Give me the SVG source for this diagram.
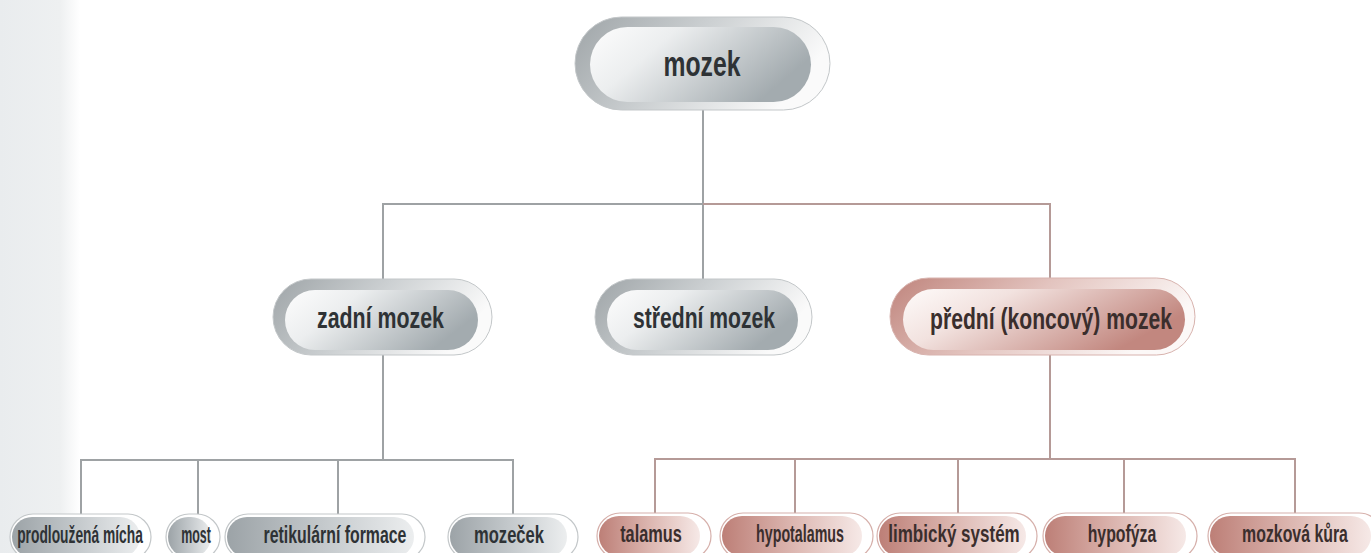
<svg xmlns="http://www.w3.org/2000/svg" width="1371" height="553" viewBox="0 0 1371 553">
<defs>
<linearGradient id="bgStrip" x1="0" y1="0" x2="1" y2="0">
<stop offset="0" stop-color="#e9ecee"/>
<stop offset="0.75" stop-color="#eef0f1"/>
<stop offset="1" stop-color="#ffffff"/>
</linearGradient>
<linearGradient id="outerGray" x1="0" y1="0" x2="1" y2="0.3">
<stop offset="0" stop-color="#9ea4a7"/>
<stop offset="0.5" stop-color="#ccd0d2"/>
<stop offset="1" stop-color="#fafafa"/>
</linearGradient>
<linearGradient id="innerGray" x1="0" y1="0" x2="1" y2="0.4">
<stop offset="0" stop-color="#fdfdfd"/>
<stop offset="0.35" stop-color="#eceeef"/>
<stop offset="1" stop-color="#a3abaf"/>
</linearGradient>
<linearGradient id="outerRed" x1="0" y1="0" x2="1" y2="0.3">
<stop offset="0" stop-color="#bf847c"/>
<stop offset="0.5" stop-color="#e3c4bf"/>
<stop offset="1" stop-color="#fcf8f7"/>
</linearGradient>
<linearGradient id="innerRed" x1="0" y1="0" x2="1" y2="0.4">
<stop offset="0" stop-color="#fefbfa"/>
<stop offset="0.35" stop-color="#f2e2df"/>
<stop offset="1" stop-color="#c2877f"/>
</linearGradient>
<linearGradient id="leafGray" x1="0" y1="0" x2="1" y2="0">
<stop offset="0" stop-color="#9ca3a7"/>
<stop offset="0.5" stop-color="#c3c8cb"/>
<stop offset="1" stop-color="#eceeef"/>
</linearGradient>
<linearGradient id="leafRed" x1="0" y1="0" x2="1" y2="0">
<stop offset="0" stop-color="#bd7f77"/>
<stop offset="0.5" stop-color="#dcb6b0"/>
<stop offset="1" stop-color="#f6e9e7"/>
</linearGradient>
</defs>
<style>
.oG{fill:url(#outerGray);stroke:#c3c7c9;stroke-width:1}
.iG{fill:url(#innerGray)}
.oR{fill:url(#outerRed);stroke:#d8b3ae;stroke-width:1}
.iR{fill:url(#innerRed)}
.lo{fill:#ffffff;stroke:#c3c7c9;stroke-width:1.2}
.loR{fill:#ffffff;stroke:#d6b0ab;stroke-width:1.2}
.lG{fill:url(#leafGray)}
.lR{fill:url(#leafRed)}
.t{font-family:"Liberation Sans",Arial,sans-serif;font-weight:bold;fill:#2e3235;text-anchor:middle}
.tR{fill:#3a2e2d}
.big{font-size:35px}
.mid{font-size:30px}
.sm{font-size:23px}
.cg{fill:none;stroke:#9ea2a4;stroke-width:2}
.cr{fill:none;stroke:#b59a97;stroke-width:2}
</style>
<rect x="0" y="0" width="1371" height="553" fill="#ffffff"/>
<rect x="0" y="0" width="80" height="553" fill="url(#bgStrip)"/>

<g id="connectors">
<path class="cg" d="M703 110 V204 M383 279 V204 H703 V279"/>
<path class="cr" d="M703 204 H1050 V278"/>
<path class="cg" d="M383 355 V460 M81 514 V460 H513 V514 M198 460 V514 M338 460 V514"/>
<path class="cr" d="M1050 355 V459 M655 513 V459 H1295 V513 M795 459 V513 M958 459 V513 M1124 459 V513"/>
</g>

<g id="mozek">
<rect class="oG" x="575" y="17" width="255" height="93" rx="46.5"/>
<rect class="iG" x="590" y="27" width="221" height="75" rx="37.5"/>
<text class="t big" transform="translate(702 76) scale(0.707 1)">mozek</text>
</g>

<g id="zadni-mozek">
<rect class="oG" x="273" y="279" width="219" height="76" rx="38"/>
<rect class="iG" x="285" y="290" width="193" height="60" rx="30"/>
<text class="t mid" transform="translate(380.5 328) scale(0.712 1)">zadní mozek</text>
</g>

<g id="stredni-mozek">
<rect class="oG" x="595" y="279" width="217" height="76" rx="38"/>
<rect class="iG" x="607" y="290" width="191" height="60" rx="30"/>
<text class="t mid" transform="translate(704 328) scale(0.704 1)">střední mozek</text>
</g>

<g id="predni-mozek">
<rect class="oR" x="890" y="278" width="305" height="77" rx="38.5"/>
<rect class="iR" x="903" y="289" width="282" height="61" rx="30.5"/>
<text class="t tR mid" transform="translate(1051 329) scale(0.705 1)">přední (koncový) mozek</text>
</g>

<g id="prodlouzena-micha">
<rect class="lo" x="10" y="514" width="141" height="46" rx="23"/>
<rect class="lG" x="12" y="517" width="128" height="40" rx="20"/>
<text class="t sm" transform="translate(80 543) scale(0.6 1)">prodloužená mícha</text>
</g>

<g id="most">
<rect class="lo" x="166" y="514" width="54" height="46" rx="23"/>
<rect class="lG" x="168" y="517" width="43" height="40" rx="20"/>
<text class="t sm" transform="translate(196 543) scale(0.54 1)">most</text>
</g>

<g id="retikularni-formace">
<rect class="lo" x="225" y="514" width="200" height="46" rx="23"/>
<rect class="lG" x="227" y="517" width="187" height="40" rx="20"/>
<text class="t sm" transform="translate(335 543) scale(0.69 1)">retikulární formace</text>
</g>

<g id="mozecek">
<rect class="lo" x="448" y="514" width="130" height="46" rx="23"/>
<rect class="lG" x="450" y="517" width="117" height="40" rx="20"/>
<text class="t sm" transform="translate(509 543) scale(0.72 1)">mozeček</text>
</g>

<g id="talamus">
<rect class="loR" x="597" y="513" width="114" height="46" rx="23"/>
<rect class="lR" x="599" y="516" width="101" height="40" rx="20"/>
<text class="t tR sm" transform="translate(651 542) scale(0.71 1)">talamus</text>
</g>

<g id="hypotalamus">
<rect class="loR" x="720" y="513" width="153" height="46" rx="23"/>
<rect class="lR" x="722" y="516" width="140" height="40" rx="20"/>
<text class="t tR sm" transform="translate(800 542) scale(0.62 1)">hypotalamus</text>
</g>

<g id="limbicky-system">
<rect class="loR" x="877" y="513" width="160" height="46" rx="23"/>
<rect class="lR" x="879" y="516" width="147" height="40" rx="20"/>
<text class="t tR sm" transform="translate(954 542) scale(0.74 1)">limbický systém</text>
</g>

<g id="hypofyza">
<rect class="loR" x="1043" y="513" width="154" height="46" rx="23"/>
<rect class="lR" x="1045" y="516" width="141" height="40" rx="20"/>
<text class="t tR sm" transform="translate(1122 542) scale(0.69 1)">hypofýza</text>
</g>

<g id="mozkova-kura">
<rect class="loR" x="1208" y="513" width="174" height="46" rx="23"/>
<rect class="lR" x="1210" y="516" width="161" height="40" rx="20"/>
<text class="t tR sm" transform="translate(1295 542) scale(0.69 1)">mozková kůra</text>
</g>
</svg>
